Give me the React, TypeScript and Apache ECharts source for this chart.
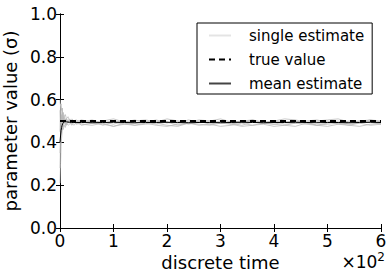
import React, { useEffect, useRef } from "react";
import * as echarts from "echarts";

const X_STEPS = [0, 1, 2, 3, 4, 5, 6, 8, 10, 12, 15, 18, 22, 26, 30,
  40, 60, 80, 100, 120, 140, 160, 180, 200, 220, 240, 260, 280, 300, 320, 340, 360, 380, 400, 420, 440, 460, 480, 500, 520, 540, 560, 580, 600];

const SINGLE_1 = [0.60, 0.57, 0.58, 0.55, 0.56, 0.53, 0.54, 0.52, 0.53, 0.51, 0.52, 0.50, 0.51, 0.50, 0.505,
  0.495, 0.505, 0.49, 0.50, 0.495, 0.505, 0.49, 0.50, 0.495, 0.49, 0.505, 0.495, 0.50, 0.49, 0.50, 0.495, 0.505, 0.49, 0.50, 0.495, 0.49, 0.50, 0.505, 0.495, 0.49, 0.50, 0.495, 0.505, 0.495];
const SINGLE_2 = [0.21, 0.30, 0.38, 0.42, 0.45, 0.47, 0.46, 0.48, 0.47, 0.49, 0.48, 0.485, 0.49, 0.48, 0.49,
  0.485, 0.48, 0.49, 0.475, 0.485, 0.48, 0.49, 0.48, 0.475, 0.485, 0.49, 0.48, 0.485, 0.475, 0.48, 0.49, 0.48, 0.485, 0.475, 0.48, 0.49, 0.485, 0.48, 0.475, 0.485, 0.48, 0.49, 0.48, 0.485];
const SINGLE_3 = [0.35, 0.44, 0.50, 0.53, 0.51, 0.54, 0.50, 0.52, 0.49, 0.51, 0.50, 0.49, 0.50, 0.495, 0.49,
  0.50, 0.49, 0.495, 0.485, 0.50, 0.49, 0.495, 0.505, 0.49, 0.50, 0.485, 0.495, 0.49, 0.50, 0.485, 0.495, 0.50, 0.49, 0.485, 0.495, 0.50, 0.49, 0.495, 0.50, 0.485, 0.49, 0.50, 0.495, 0.49];
const SINGLE_4 = [0.55, 0.50, 0.46, 0.52, 0.48, 0.50, 0.53, 0.49, 0.51, 0.48, 0.50, 0.51, 0.49, 0.50, 0.485,
  0.49, 0.50, 0.48, 0.495, 0.485, 0.49, 0.50, 0.485, 0.495, 0.48, 0.49, 0.50, 0.485, 0.495, 0.49, 0.48, 0.495, 0.49, 0.50, 0.485, 0.49, 0.495, 0.48, 0.49, 0.50, 0.485, 0.49, 0.495, 0.485];
const SINGLE_5 = [0.28, 0.40, 0.44, 0.49, 0.46, 0.50, 0.47, 0.50, 0.48, 0.51, 0.49, 0.50, 0.48, 0.495, 0.50,
  0.48, 0.49, 0.485, 0.475, 0.49, 0.48, 0.485, 0.49, 0.48, 0.475, 0.49, 0.485, 0.48, 0.49, 0.485, 0.475, 0.48, 0.49, 0.485, 0.48, 0.475, 0.49, 0.48, 0.485, 0.49, 0.48, 0.475, 0.485, 0.49];
const SINGLE_6 = [0.45, 0.58, 0.52, 0.47, 0.56, 0.49, 0.52, 0.50, 0.51, 0.50, 0.49, 0.505, 0.50, 0.49, 0.495,
  0.505, 0.495, 0.50, 0.51, 0.495, 0.50, 0.505, 0.495, 0.51, 0.50, 0.495, 0.505, 0.50, 0.51, 0.495, 0.50, 0.505, 0.495, 0.50, 0.51, 0.505, 0.495, 0.50, 0.505, 0.51, 0.495, 0.50, 0.505, 0.50];
const SINGLES = [SINGLE_1, SINGLE_2, SINGLE_3, SINGLE_4, SINGLE_5, SINGLE_6];

const MEAN = [0.40, 0.43, 0.455, 0.47, 0.48, 0.487, 0.492, 0.496, 0.497, 0.496, 0.495, 0.494, 0.493, 0.493, 0.493,
  0.493, 0.492, 0.493, 0.494, 0.493, 0.492, 0.493, 0.493, 0.494, 0.493, 0.492, 0.493, 0.493, 0.492, 0.493, 0.494, 0.493, 0.492, 0.493, 0.493, 0.494, 0.493, 0.492, 0.493, 0.493, 0.492, 0.493, 0.494, 0.493];

const TRUE_X = [0, 600];
const TRUE_VALUE = 0.5;

const X_TICKS_SCALE = 100;
const FONT = "DejaVu Sans";

export default function App() {
  const ref = useRef<HTMLDivElement>(null);
  useEffect(() => {
    document.body.style.margin = "0";
    const chart = echarts.init(ref.current!, null, { renderer: "svg" });
    const pair = (ys: number[]) => X_STEPS.map((x, i) => [x, ys[i]]);
    const series: any[] = SINGLES.map((s) => ({
      name: "single estimate",
      type: "line",
      data: pair(s),
      symbol: "none",
      lineStyle: { color: "#b8b8b8", width: 1, opacity: 0.75 },
      itemStyle: { color: "#e0e0e0" },
      z: 2,
    }));
    series.push({
      name: "true value",
      type: "line",
      data: TRUE_X.map((x) => [x, TRUE_VALUE]),
      symbol: "none",
      lineStyle: { color: "#000", width: 2, type: [6, 4] },
      itemStyle: { color: "#000" },
      z: 4,
    });
    series.push({
      name: "mean estimate",
      type: "line",
      data: pair(MEAN),
      symbol: "none",
      lineStyle: { color: "#000", width: 1 },
      itemStyle: { color: "#000" },
      z: 3,
    });
    const axisCommon = {
      axisLine: { show: true, lineStyle: { color: "#000", width: 1 } },
      axisTick: { show: true, inside: true, length: 4, lineStyle: { color: "#000" } },
      splitLine: { show: false },
    };
    chart.setOption({
      animation: false,
      grid: { left: 60, right: 10, top: 14, bottom: 49, containLabel: false, outerBoundsMode: "none" },
      legend: {
        data: [
          { name: "single estimate", itemStyle: { opacity: 0 }, lineStyle: { color: "#e4e4e4", opacity: 1 } },
          { name: "true value", itemStyle: { opacity: 0 } },
          { name: "mean estimate", itemStyle: { opacity: 0 }, lineStyle: { color: "#444" } },
        ],
        orient: "vertical",
        left: 197,
        top: 23,
        padding: [5, 8, 3, 11],
        itemWidth: 22,
        itemHeight: 14,
        itemGap: 9,
        borderColor: "#000",
        borderWidth: 1,
        borderRadius: 0,
        backgroundColor: "#fff",
        textStyle: { fontFamily: FONT, fontSize: 15, color: "#000", padding: [0, 0, 0, 13] },
      },
      xAxis: [
        {
          type: "value",
          min: 0,
          max: 600,
          interval: 100,
          position: "bottom",
          ...axisCommon,
          axisLabel: {
            fontFamily: FONT,
            fontSize: 17,
            color: "#000",
            margin: 4,
            formatter: (v: number) => String(v / X_TICKS_SCALE),
          },
          name: "discrete time",
          nameLocation: "middle",
          nameGap: 22,
          nameTextStyle: { fontFamily: FONT, fontSize: 18, color: "#000" },
        },
        {
          type: "value",
          min: 0,
          max: 600,
          interval: 100,
          position: "top",
          ...axisCommon,
          axisLabel: { show: false },
        },
      ],
      yAxis: [
        {
          type: "value",
          min: 0,
          max: 1,
          interval: 0.2,
          position: "left",
          ...axisCommon,
          axisLabel: {
            fontFamily: FONT,
            fontSize: 17,
            color: "#000",
            margin: 3,
            formatter: (v: number) => v.toFixed(1),
          },
          name: "parameter value (σ)",
          nameLocation: "middle",
          nameGap: 35,
          nameTextStyle: { fontFamily: FONT, fontSize: 18, color: "#000" },
        },
        {
          type: "value",
          min: 0,
          max: 1,
          interval: 0.2,
          position: "right",
          ...axisCommon,
          axisLabel: { show: false },
        },
      ],
      graphic: [
        {
          type: "text",
          right: 6,
          top: 251,
          style: {
            text: "{a|×10}{b|2}",
            rich: {
              a: { fontFamily: FONT, fontSize: 17, color: "#000" },
              b: { fontFamily: FONT, fontSize: 12, color: "#000", verticalAlign: "top", padding: [0, 0, 9, 0] },
            },
          },
        },
      ],
      series,
    });
    return () => chart.dispose();
  }, []);
  return <div ref={ref} style={{ width: 391, height: 277 }} />;
}
